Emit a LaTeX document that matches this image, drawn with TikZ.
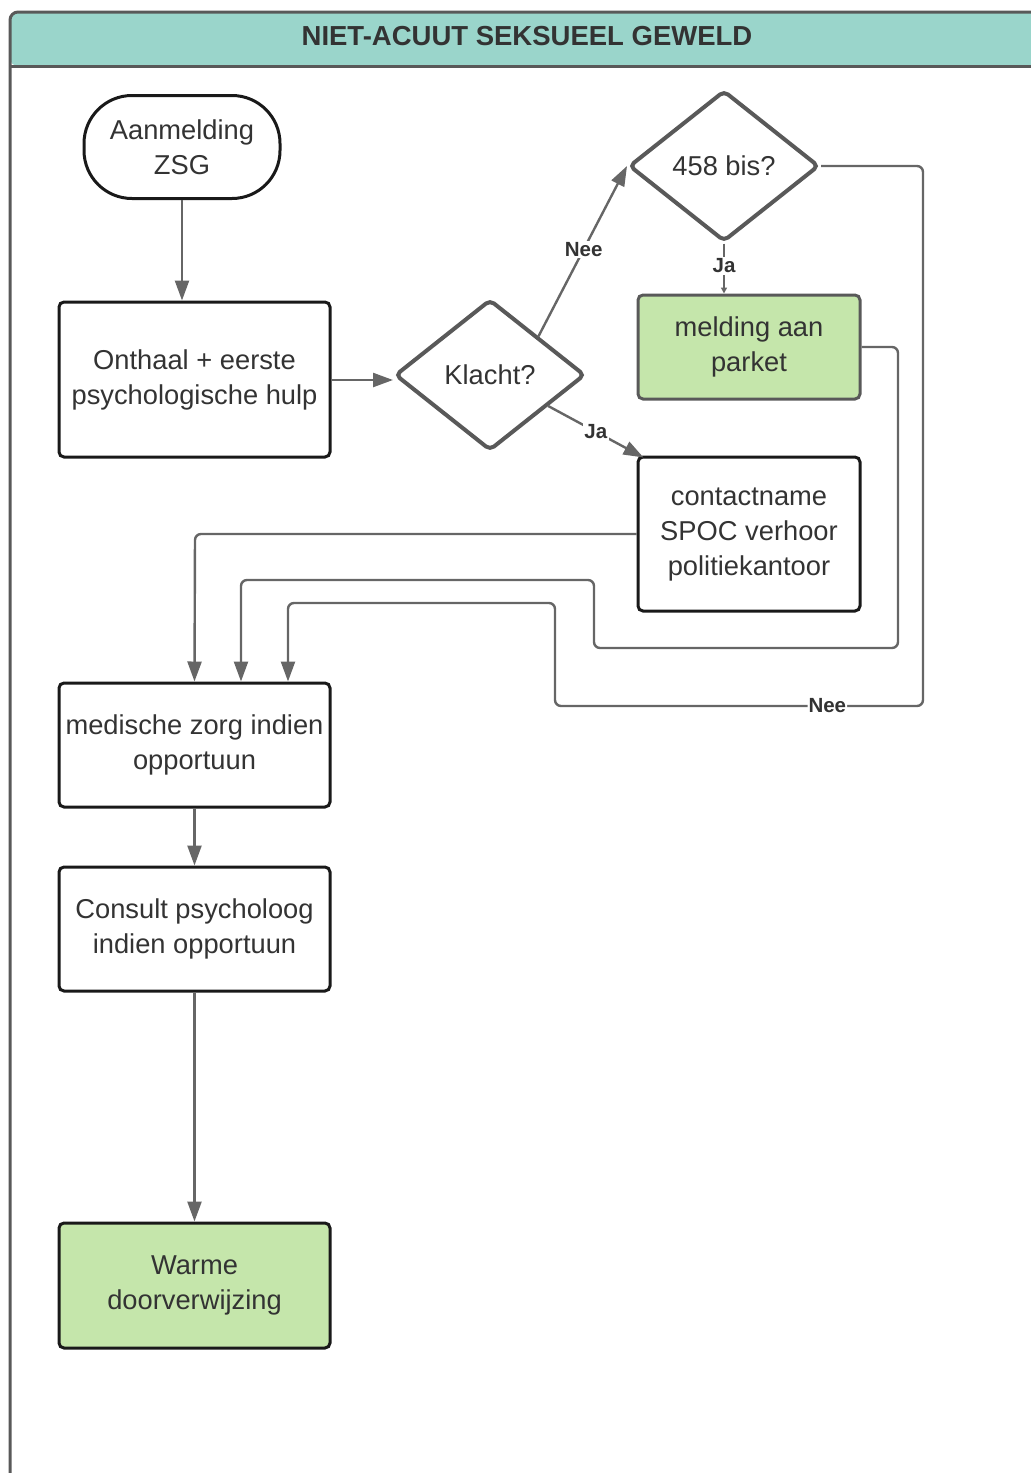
\documentclass[tikz,border=0pt]{standalone}
\usepackage{fontspec}
\setmainfont{Liberation Sans}
\usetikzlibrary{shapes.geometric,arrows.meta,calc}
\definecolor{hdr}{RGB}{154,213,203}
\definecolor{grn}{RGB}{197,230,171}
\definecolor{txt}{RGB}{51,51,51}
\definecolor{edgec}{RGB}{102,102,102}
\definecolor{bord}{RGB}{89,89,89}
\begin{document}
\begin{tikzpicture}[x=1pt,y=-1pt,
  every node/.style={text=txt, align=center},
  main/.style={font=\fontsize{27.3}{35}\selectfont},
  lbl/.style={font=\bfseries\fontsize{20.5}{24}\selectfont, fill=white, inner sep=1.5pt},
  box/.style={main, draw=black!90, line width=3pt, rounded corners=5pt, inner sep=0pt},
  gbox/.style={box, fill=grn},
  dia/.style={main, diamond, draw=bord, line width=4pt, rounded corners=5pt, inner sep=0pt, minimum width=190pt, minimum height=151pt},
  arr/.style={draw=edgec, line width=2.4pt, -{Triangle[length=20pt,width=14pt]}},
  route/.style={arr, rounded corners=6pt}
]
\useasboundingbox (0,0) rectangle (1031,1473);
\begin{scope}
\clip (0,0) rectangle (1031,1473);
\fill[hdr, rounded corners=8pt] (10,66) -- (10,12) -- (1070,12) -- (1070,66) -- cycle;
\draw[bord, line width=3pt, rounded corners=8pt] (10,1520) -- (10,12) -- (1070,12);
\draw[bord, line width=3pt] (10,66) -- (1070,66);
\end{scope}
\node[font=\bfseries\fontsize{27.5}{30}\selectfont] (title) at (527,36) {NIET-ACUUT SEKSUEEL GEWELD};

\node[box, rounded corners=48pt, minimum width=196pt, minimum height=103pt] (a) at (182,147) {Aanmelding\\ZSG};
\node[box, minimum width=271pt, minimum height=155pt] (o) at (194.5,379.5) {Onthaal + eerste\\psychologische hulp};
\node[dia] (k) at (490,375) {Klacht?};
\node[dia] (b) at (724,166) {458 bis?};
\node[gbox, draw=bord, minimum width=222pt, minimum height=104pt] (p) at (749,347) {melding aan\\parket};
\node[box, minimum width=222pt, minimum height=154pt] (c) at (749,534) {contactname\\SPOC verhoor\\politiekantoor};
\node[box, minimum width=271pt, minimum height=124pt] (m) at (194.5,745) {medische zorg indien\\opportuun};
\node[box, minimum width=271pt, minimum height=124pt] (s) at (194.5,929) {Consult psycholoog\\indien opportuun};
\node[gbox, minimum width=271pt, minimum height=125pt] (w) at (194.5,1285.5) {Warme\\doorverwijzing};

\coordinate (m2) at ($(m.north)+(46.5,0)$);
\coordinate (m3) at ($(m.north)+(93.5,0)$);

\draw[arr] (a.south) -- (a.south |- o.north);
\draw[arr] (o.east |- 0,380) -- (k.west |- 0,380);
\draw[arr] (k.north east) -- node[lbl, pos=0.51] {Nee} (b.west);
\draw[arr] ($(k.east)!0.4!(k.south)$) -- node[lbl, pos=0.5] {Ja} ([xshift=7pt,yshift=-2pt]c.north west);
\draw[draw=edgec, line width=2pt, -{Triangle[length=6pt,width=6pt]}] (b.south) -- node[lbl, pos=0.45] {Ja} (p.north -| b.south);
\draw[route] (b.east) -- (923,166) -- (923,706) -- node[lbl, pos=0.26, inner sep=1pt] {Nee} (555,706) -- (555,603) -- (288,603) -- (m3);
\draw[route] (p.east) -- (898,347) -- (898,648) -- (594,648) -- (594,580) -- (241,580) -- (m2);
\draw[route] (c.west) -- (195,534) -- (m.north);
\draw[arr] (m.south) -- (s.north);
\draw[arr] (s.south) -- (w.north);
\end{tikzpicture}
\end{document}
